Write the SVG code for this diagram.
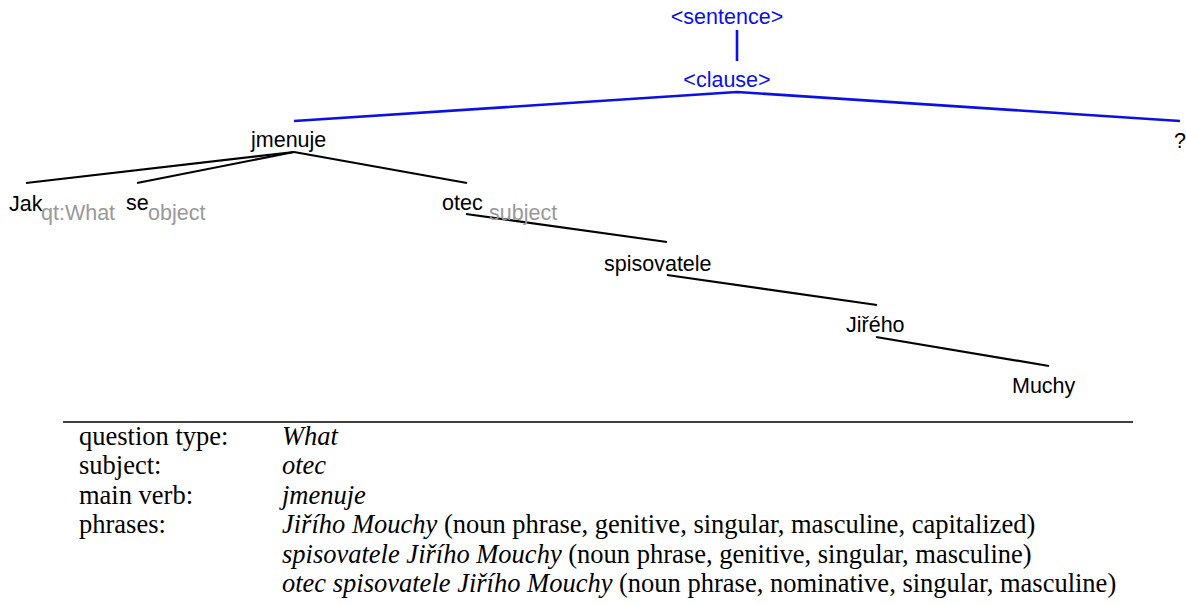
<svg xmlns="http://www.w3.org/2000/svg" width="1186" height="605" viewBox="0 0 1186 605">
<style>
.n{font-family:"Liberation Sans",Arial,sans-serif;font-size:21.5px;fill:#000}
.b{fill:#0a10e6}
.g{fill:#999}
.t{font-family:"Liberation Serif","Times New Roman",serif;font-size:26.5px;fill:#000}
.i{font-style:italic}
.lb{stroke:#0a10e6;stroke-width:2.6;fill:none}
.lk{stroke:#000;stroke-width:2.2;fill:none}
</style>
<rect width="1186" height="605" fill="#fff"/>
<g id="connectors">
<line class="lb" x1="737" y1="30" x2="737" y2="61"/>
<polyline class="lb" points="294,121 737,92 1180,121"/>
<line class="lk" x1="294" y1="152" x2="26" y2="183"/>
<line class="lk" x1="294" y1="152" x2="137" y2="183"/>
<line class="lk" x1="294" y1="152" x2="467" y2="183"/>
<line class="lk" x1="466" y1="214" x2="667" y2="242"/>
<line class="lk" x1="667" y1="275" x2="877" y2="305"/>
<line class="lk" x1="876" y1="337" x2="1049" y2="366"/>
</g>
<g id="sentence"><text class="n b" x="727" y="24" text-anchor="middle">&lt;sentence&gt;</text></g>
<g id="clause"><text class="n b" x="727" y="87" text-anchor="middle">&lt;clause&gt;</text></g>
<g id="jmenuje"><text class="n" x="251" y="147">jmenuje</text></g>
<g id="qmark"><text class="n" x="1174" y="148">?</text></g>
<g id="jak"><text class="n" x="9" y="211">Jak</text><text class="n g" x="41" y="220">qt:What</text></g>
<g id="se"><text class="n" x="126" y="210">se</text><text class="n g" x="148" y="220">object</text></g>
<g id="otec"><text class="n" x="442" y="210">otec</text><text class="n g" x="489" y="220">subject</text></g>
<g id="spisovatele"><text class="n" x="604" y="271">spisovatele</text></g>
<g id="jiriho"><text class="n" x="846" y="332">Jiřého</text></g>
<g id="muchy"><text class="n" x="1012" y="393">Muchy</text></g>
<g id="table">
<line x1="63" y1="422" x2="1133" y2="422" stroke="#000" stroke-width="1.3"/>
<text class="t" x="79" y="445">question type:</text>
<text class="t i" x="282" y="445">What</text>
<text class="t" x="79" y="474.4">subject:</text>
<text class="t i" x="282" y="474.4">otec</text>
<text class="t" x="79" y="503.8">main verb:</text>
<text class="t i" x="282" y="503.8">jmenuje</text>
<text class="t" x="79" y="533.2">phrases:</text>
<text class="t" x="282" y="533.2"><tspan class="i">Jiřího Mouchy</tspan> (noun phrase, genitive, singular, masculine, capitalized)</text>
<text class="t" x="282" y="562.6"><tspan class="i">spisovatele Jiřího Mouchy</tspan> (noun phrase, genitive, singular, masculine)</text>
<text class="t" x="282" y="592"><tspan class="i">otec spisovatele Jiřího Mouchy</tspan> (noun phrase, nominative, singular, masculine)</text>
</g>
</svg>
